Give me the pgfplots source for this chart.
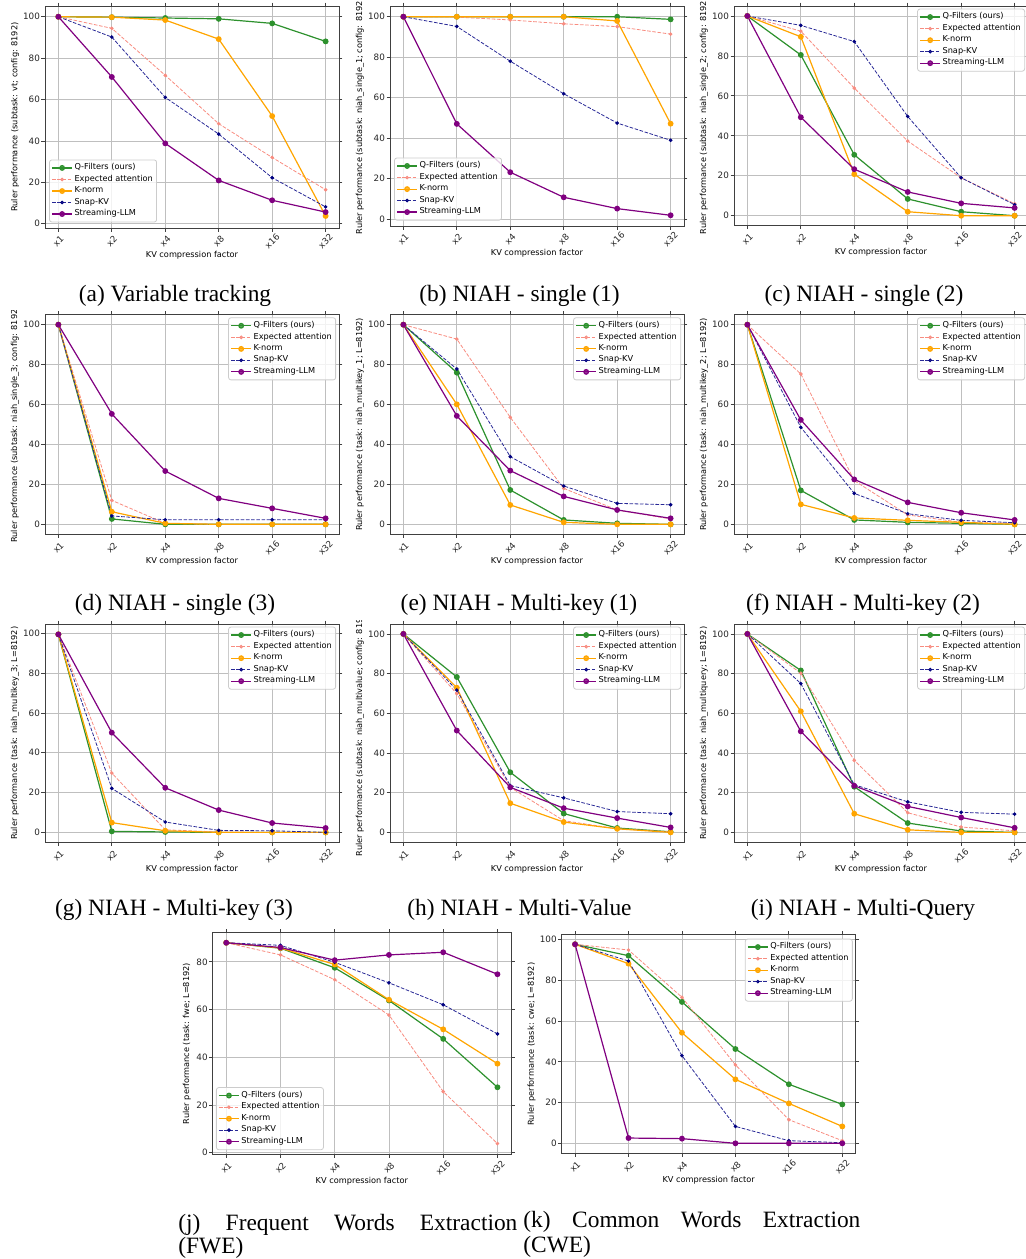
\documentclass[border=0pt]{standalone}
\usepackage{fontspec}
\setmainfont{Liberation Serif}
\newfontfamily\dv{DejaVu Sans}
\usepackage{pgfplots}
\pgfplotsset{compat=1.18}

\definecolor{cqf}{RGB}{45,145,45}
\definecolor{cea}{RGB}{248,140,128}
\definecolor{ckn}{RGB}{255,165,0}
\definecolor{csk}{RGB}{40,40,150}
\definecolor{cnavy}{RGB}{0,0,128}
\definecolor{csl}{RGB}{128,0,128}

\newcommand\tickfont{\dv\fontsize{4.4}{5}\selectfont}
\newcommand\labfont{\dv\fontsize{4.1}{5}\selectfont}
\newcommand\capfont{\fontsize{11.7}{14}\selectfont}
\newcommand\leg{\legend{Q-Filters (ours),Expected attention,K-norm,Snap-KV,Streaming-LLM}}

\pgfplotsset{
  panel/.style={
    scale only axis, width=147pt, height=110pt,
    xmin=-0.25, xmax=5.25, ymin=-5, ymax=105,
    xtick={0,1,2,3,4,5}, xticklabels={x1,x2,x4,x8,x16,x32},
    ytick={0,20,40,60,80,100},
    grid=major, major grid style={line width=0.4pt, draw=black!25},
    axis line style={line width=0.45pt, draw=black!75},
    tick align=outside, major tick length=1.75pt,
    every tick/.style={line width=0.4pt, black!75},
    /pgf/number format/assume math mode=true,
    tick label style={font=\tickfont, text=black!85},
    xticklabel style={yshift=-5pt, rotate=45, anchor=center},
    yticklabel style={anchor=east, inner sep=0.6pt},
    xlabel={KV compression factor},
    xlabel style={font=\labfont, at={(axis description cs:0.5,0)}, anchor=center, yshift=-13.5pt},
    ylabel style={font=\labfont, at={(axis description cs:-0.102,0.5)}, anchor=center},
    legend cell align=left,
    legend style={font=\labfont, draw=black!20, rounded corners=1.2pt, fill=white,
      fill opacity=0.8, draw opacity=1, text opacity=1, inner xsep=1pt, inner ysep=0.8pt,
      row sep=-0.6pt, nodes={inner sep=0.9pt}},
    legend image code/.code={\draw[mark repeat=2,mark phase=2] plot coordinates {(0pt,0pt) (5pt,0pt) (10pt,0pt)};},
  },
  legLL/.style={legend style={at={(axis description cs:0.014,0.025)}, anchor=south west}},
  legUR/.style={legend style={at={(axis description cs:0.99,0.988)}, anchor=north east}},
  qf/.style={color=cqf, line width=0.6pt, mark=*, mark size=1.15pt},
  ea/.style={color=cea, line width=0.4pt, dash pattern=on 1.8pt off 0.8pt, mark=*, mark size=0.7pt, mark options={solid}},
  kn/.style={color=ckn, line width=0.6pt, mark=*, mark size=1.15pt},
  sk/.style={color=csk, line width=0.4pt, dash pattern=on 1.8pt off 0.8pt, mark=*, mark size=0.7pt, mark options={solid, fill=cnavy, draw=cnavy}},
  sl/.style={color=csl, line width=0.6pt, mark=*, mark size=1.15pt},
}

\begin{document}
\begin{tikzpicture}
\useasboundingbox (0pt,0pt) rectangle (513pt,-629.5pt);

% ---- Row 1 ----
\begin{scope}
\clip (0pt,0pt) rectangle (172.5pt,-155pt);
\begin{axis}[panel, at={(22.5pt,-114pt)}, anchor=south west, height=111pt,
  ymin=-2.1, ymax=105.2, legLL,
  ylabel={Ruler performance (subtask: vt; config: 8192)}]
  \addplot[qf] coordinates {(0,100) (1,99.8) (2,99.4) (3,99.0) (4,96.8) (5,88.1)};
  \addplot[ea] coordinates {(0,100) (1,94.4) (2,71.7) (3,48.3) (4,32.0) (5,16.4)};
  \addplot[kn] coordinates {(0,100) (1,99.8) (2,98.4) (3,89.2) (4,52.0) (5,3.7)};
  \addplot[sk] coordinates {(0,100) (1,90.2) (2,61.0) (3,43.3) (4,22.2) (5,8.1)};
  \addplot[sl] coordinates {(0,100) (1,70.9) (2,38.8) (3,20.9) (4,11.3) (5,5.6)};
  \leg
\end{axis}
\end{scope}

\begin{scope}
\clip (172.5pt,0pt) rectangle (345pt,-155pt);
\begin{axis}[panel, at={(195pt,-113pt)}, anchor=south west, height=110pt,
  ymin=-3.5, ymax=105.3, legLL,
  ylabel={Ruler performance (subtask: niah\_single\_1; config: 8192)}]
  \addplot[qf] coordinates {(0,100) (1,100) (2,100) (3,100) (4,100) (5,98.7)};
  \addplot[ea] coordinates {(0,100) (1,99.8) (2,98.4) (3,96.5) (4,95.1) (5,91.4)};
  \addplot[kn] coordinates {(0,100) (1,100) (2,100) (3,100) (4,97.9) (5,47.1)};
  \addplot[sk] coordinates {(0,100) (1,95.2) (2,78.0) (3,61.9) (4,47.4) (5,38.9)};
  \addplot[sl] coordinates {(0,100) (1,47.0) (2,23.1) (3,10.7) (4,5.1) (5,1.8)};
  \leg
\end{axis}
\end{scope}

\begin{scope}
\clip (345pt,0pt) rectangle (513pt,-155pt);
\begin{axis}[panel, at={(367pt,-112.85pt)}, anchor=south west, height=109.85pt, legUR,
  ylabel={Ruler performance (subtask: niah\_single\_2; config: 8192)}]
  \addplot[qf] coordinates {(0,100) (1,80.5) (2,30.5) (3,8.4) (4,2.0) (5,0)};
  \addplot[ea] coordinates {(0,100) (1,92.4) (2,63.9) (3,37.4) (4,19.0) (5,6.0)};
  \addplot[kn] coordinates {(0,100) (1,89.6) (2,20.8) (3,2.0) (4,0) (5,0)};
  \addplot[sk] coordinates {(0,100) (1,95.3) (2,87.2) (3,49.7) (4,19.0) (5,5.5)};
  \addplot[sl] coordinates {(0,100) (1,49.3) (2,23.3) (3,11.9) (4,6.2) (5,3.9)};
  \leg
\end{axis}
\end{scope}

% ---- Row 2 ----
\begin{scope}
\clip (0pt,-155pt) rectangle (172.5pt,-310pt);
\begin{axis}[panel, at={(22.5pt,-267.15pt)}, anchor=south west, height=109.8pt, legUR,
  ylabel={Ruler performance (subtask: niah\_single\_3; config: 8192)}]
  \addplot[qf] coordinates {(0,100) (1,2.7) (2,0) (3,0) (4,0) (5,0)};
  \addplot[ea] coordinates {(0,100) (1,12.0) (2,0.5) (3,0) (4,0) (5,0)};
  \addplot[kn] coordinates {(0,100) (1,6.3) (2,0.5) (3,0) (4,0) (5,0)};
  \addplot[sk] coordinates {(0,100) (1,4.2) (2,2.3) (3,2.3) (4,2.3) (5,2.3)};
  \addplot[sl] coordinates {(0,100) (1,55.3) (2,26.7) (3,13.0) (4,8.0) (5,3.0)};
  \leg
\end{axis}
\end{scope}

\begin{scope}
\clip (172.5pt,-155pt) rectangle (345pt,-310pt);
\begin{axis}[panel, at={(195pt,-267.15pt)}, anchor=south west, height=109.8pt, legUR,
  ylabel={Ruler performance (task: niah\_multikey\_1; L=8192)}]
  \addplot[qf] coordinates {(0,100) (1,76.0) (2,17.2) (3,2.2) (4,0.5) (5,0)};
  \addplot[ea] coordinates {(0,100) (1,92.8) (2,53.6) (3,18.0) (4,7.2) (5,2.7)};
  \addplot[kn] coordinates {(0,100) (1,60.1) (2,9.7) (3,1.0) (4,0) (5,0)};
  \addplot[sk] coordinates {(0,100) (1,77.8) (2,33.9) (3,19.2) (4,10.5) (5,9.8)};
  \addplot[sl] coordinates {(0,100) (1,54.3) (2,26.9) (3,14.0) (4,7.2) (5,3.0)};
  \leg
\end{axis}
\end{scope}

\begin{scope}
\clip (345pt,-155pt) rectangle (513pt,-310pt);
\begin{axis}[panel, at={(367pt,-267.15pt)}, anchor=south west, height=109.8pt, legUR,
  ylabel={Ruler performance (task: niah\_multikey\_2; L=8192)}]
  \addplot[qf] coordinates {(0,100) (1,17.0) (2,2.2) (3,1.0) (4,0.5) (5,0)};
  \addplot[ea] coordinates {(0,100) (1,75.3) (2,21.9) (3,4.7) (4,1.0) (5,0.5)};
  \addplot[kn] coordinates {(0,100) (1,10.0) (2,3.2) (3,2.0) (4,1.0) (5,0)};
  \addplot[sk] coordinates {(0,100) (1,48.6) (2,15.5) (3,5.3) (4,2.0) (5,0.8)};
  \addplot[sl] coordinates {(0,100) (1,52.3) (2,22.5) (3,11.0) (4,5.8) (5,2.2)};
  \leg
\end{axis}
\end{scope}

% ---- Row 3 ----
\begin{scope}
\clip (0pt,-310pt) rectangle (172.5pt,-460pt);
\begin{axis}[panel, at={(22.5pt,-421.15pt)}, anchor=south west, height=109.15pt,
  ymin=-5, ymax=104.7, legUR,
  ylabel={Ruler performance (task: niah\_multikey\_3; L=8192)}]
  \addplot[qf] coordinates {(0,99.5) (1,0.5) (2,0.2) (3,0) (4,0) (5,0)};
  \addplot[ea] coordinates {(0,99.5) (1,29.8) (2,1.3) (3,0.2) (4,0) (5,0)};
  \addplot[kn] coordinates {(0,99.5) (1,4.9) (2,0.8) (3,0) (4,0) (5,0)};
  \addplot[sk] coordinates {(0,99.5) (1,22.1) (2,5.2) (3,1.0) (4,0.8) (5,0)};
  \addplot[sl] coordinates {(0,99.5) (1,50.1) (2,22.4) (3,11.2) (4,4.7) (5,2.2)};
  \leg
\end{axis}
\end{scope}

\begin{scope}
\clip (172.5pt,-310pt) rectangle (345pt,-460pt);
\begin{axis}[panel, at={(195pt,-421.15pt)}, anchor=south west, height=109.15pt, legUR,
  ylabel={Ruler performance (subtask: niah\_multivalue; config: 8192)}]
  \addplot[qf] coordinates {(0,100) (1,78.3) (2,30.3) (3,9.5) (4,2.2) (5,0.3)};
  \addplot[ea] coordinates {(0,100) (1,69.9) (2,22.7) (3,5.9) (4,1.8) (5,0.3)};
  \addplot[kn] coordinates {(0,100) (1,72.9) (2,14.7) (3,5.2) (4,1.8) (5,0)};
  \addplot[sk] coordinates {(0,100) (1,71.7) (2,23.6) (3,17.4) (4,10.5) (5,9.4)};
  \addplot[sl] coordinates {(0,100) (1,51.3) (2,22.7) (3,12.2) (4,7.2) (5,2.5)};
  \leg
\end{axis}
\end{scope}

\begin{scope}
\clip (345pt,-310pt) rectangle (513pt,-460pt);
\begin{axis}[panel, at={(367pt,-421.15pt)}, anchor=south west, height=109.15pt, legUR,
  ylabel={Ruler performance (task: niah\_multiquery; L=8192)}]
  \addplot[qf] coordinates {(0,100) (1,81.6) (2,23.0) (3,4.7) (4,0.7) (5,0)};
  \addplot[ea] coordinates {(0,100) (1,80.2) (2,36.3) (3,9.9) (4,2.7) (5,0.8)};
  \addplot[kn] coordinates {(0,100) (1,61.0) (2,9.4) (3,1.3) (4,0) (5,0)};
  \addplot[sk] coordinates {(0,100) (1,75.0) (2,24.0) (3,15.4) (4,10.1) (5,9.2)};
  \addplot[sl] coordinates {(0,100) (1,50.9) (2,23.5) (3,13.1) (4,7.5) (5,2.3)};
  \leg
\end{axis}
\end{scope}

% ---- Row 4 ----
\begin{axis}[panel, at={(106.35pt,-577.15pt)}, anchor=south west, width=149.15pt, height=110.8pt,
  ymin=-0.7, ymax=92.2, ytick={0,20,40,60,80},
  legend style={at={(axis description cs:0.011,0.019)}, anchor=south west},
  ylabel style={at={(axis description cs:-0.087,0.5)}},
  ylabel={Ruler performance (task: fwe; L=8192)}]
  \addplot[qf] coordinates {(0,88.0) (1,85.7) (2,77.5) (3,63.8) (4,47.7) (5,27.4)};
  \addplot[ea] coordinates {(0,88.0) (1,82.9) (2,72.5) (3,57.7) (4,25.6) (5,3.8)};
  \addplot[kn] coordinates {(0,88.0) (1,85.8) (2,78.9) (3,64.1) (4,51.7) (5,37.3)};
  \addplot[sk] coordinates {(0,88.0) (1,86.9) (2,79.8) (3,71.2) (4,62.0) (5,49.8)};
  \addplot[sl] coordinates {(0,88.0) (1,86.0) (2,80.7) (3,82.9) (4,84.0) (5,74.8)};
  \leg
\end{axis}

\begin{axis}[panel, at={(280.85pt,-576.65pt)}, anchor=south west, height=109.3pt,
  ymin=-4.9, ymax=102.4,
  legend style={at={(axis description cs:0.99,0.982)}, anchor=north east},
  ylabel={Ruler performance (task: cwe; L=8192)}]
  \addplot[qf] coordinates {(0,97.7) (1,92.1) (2,69.4) (3,46.3) (4,29.0) (5,19.1)};
  \addplot[ea] coordinates {(0,97.7) (1,94.9) (2,71.7) (3,38.5) (4,11.6) (5,1.3)};
  \addplot[kn] coordinates {(0,97.7) (1,88.2) (2,54.3) (3,31.4) (4,19.6) (5,8.3)};
  \addplot[sk] coordinates {(0,97.7) (1,89.5) (2,43.0) (3,8.3) (4,1.3) (5,0.3)};
  \addplot[sl] coordinates {(0,97.7) (1,2.6) (2,2.3) (3,0) (4,0) (5,0)};
  \leg
\end{axis}

% ---- Captions ----
\begin{scope}[every node/.style={font=\capfont, inner sep=0pt}]
\node[anchor=base] at (87.5pt,-150.85pt) {(a) Variable tracking};
\node[anchor=base] at (259.75pt,-150.85pt) {(b) NIAH - single (1)};
\node[anchor=base] at (432pt,-150.85pt) {(c) NIAH - single (2)};
\node[anchor=base] at (87.5pt,-305pt) {(d) NIAH - single (3)};
\node[anchor=base] at (259.5pt,-305pt) {(e) NIAH - Multi-key (1)};
\node[anchor=base] at (431.5pt,-305pt) {(f) NIAH - Multi-key (2)};
\node[anchor=base] at (87pt,-457.5pt) {(g) NIAH - Multi-key (3)};
\node[anchor=base] at (259.75pt,-457.5pt) {(h) NIAH - Multi-Value};
\node[anchor=base] at (431.5pt,-457.5pt) {(i) NIAH - Multi-Query};
\node[anchor=base west] at (89pt,-615pt) {\makebox[169.5pt][s]{(j) Frequent Words Extraction}};
\node[anchor=base west] at (89pt,-626.5pt) {(FWE)};
\node[anchor=base west] at (261.5pt,-613.5pt) {\makebox[168.5pt][s]{(k) Common Words Extraction}};
\node[anchor=base west] at (261.5pt,-626pt) {(CWE)};
\end{scope}
\end{tikzpicture}
\end{document}
